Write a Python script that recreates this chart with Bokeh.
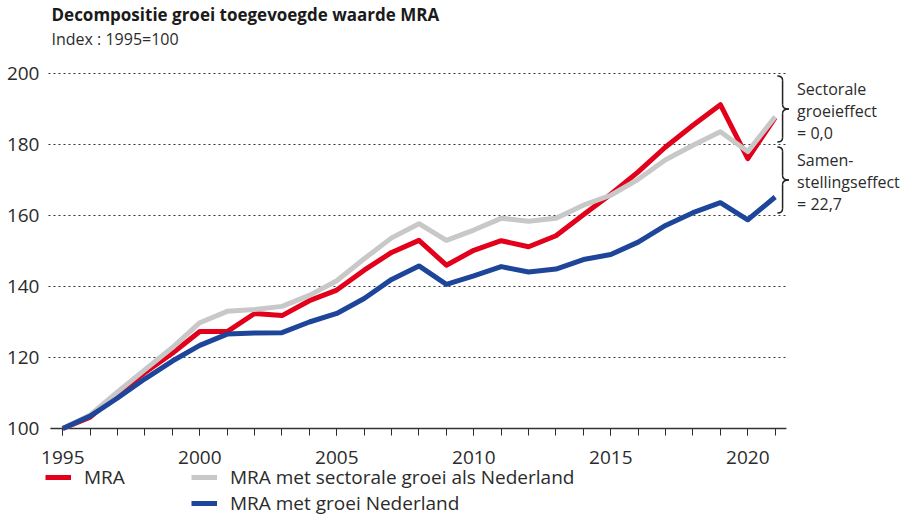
from bokeh.plotting import figure
from bokeh.models import Legend, LegendItem, Label, Title, FixedTicker, Range1d
from bokeh.embed import file_html
from bokeh.resources import INLINE

years = list(range(1995, 2022))
mra = [100, 103.2, 109.8, 115.8, 121.2, 127.3, 127.3, 132.4, 131.8, 136.0,
       139.0, 144.6, 149.6, 153.0, 146.0, 150.2, 152.9, 151.2, 154.3, 160.2,
       166.0, 172.3, 179.3, 185.4, 191.2, 176.0, 187.6]
mra_sect = [100, 103.8, 110.3, 116.6, 122.8, 129.8, 133.0, 133.5, 134.4, 137.5,
            141.6, 147.8, 153.7, 157.7, 153.0, 155.9, 159.2, 158.4, 159.2, 162.9,
            165.7, 170.2, 175.7, 179.8, 183.6, 178.0, 187.8]
mra_nl = [100, 103.5, 108.6, 114.0, 119.0, 123.4, 126.6, 126.9, 127.0, 130.0,
          132.4, 136.6, 142.0, 145.8, 140.6, 143.0, 145.6, 144.1, 144.9, 147.6,
          149.0, 152.5, 157.2, 160.8, 163.6, 158.8, 165.2]

series_labels = ["MRA", "MRA met sectorale groei als Nederland", "MRA met groei Nederland"]
colors = ["#e2001a", "#c8c8c8", "#1d4599"]

major_ticks = [1995, 2000, 2005, 2010, 2015, 2020]
y_ticks = [100, 120, 140, 160, 180, 200]
grid_levels = [120, 140, 160, 180, 200]

annot_sect = ["Sectorale", "groeieffect", "= 0,0"]
annot_samen = ["Samen-", "stellingseffect", "= 22,7"]

FONT = "Open Sans"
TXT = "#2b2b2b"

PX_PER_YEAR = 27.4
X0 = 1992.727
X1 = X0 + 903 / PX_PER_YEAR
X_AXIS = 1994.478          # left edge of the chart area
AX_END = 2021.41
Y0, Y1 = 75.21, 206.76

p = figure(frame_width=903, frame_height=467, output_backend="svg", toolbar_location=None,
           x_range=Range1d(X0, X1), y_range=Range1d(Y0, Y1),
           min_border_left=0, min_border_right=0, min_border_top=0, min_border_bottom=0,
           title=None)
p.outline_line_color = None
p.background_fill_color = None
p.border_fill_color = "white"
p.xgrid.visible = False
p.ygrid.visible = False

# titles
sub = Title(text="Index : 1995=100", text_font=FONT, text_font_size="16px",
            text_font_style="normal", text_color=TXT, offset=51, standoff=0)
p.add_layout(sub, "above")
main = Title(text="Decompositie groei toegevoegde waarde MRA", text_font=FONT,
             text_font_size="17px", text_font_style="bold", text_color="#1a1a1a", offset=51, standoff=0)
p.add_layout(main, "above")

# axes pinned inside the frame
xa = p.xaxis[0]
xa.fixed_location = 100
xa.ticker = FixedTicker(ticks=major_ticks, minor_ticks=years)
xa.axis_line_color = None
xa.major_tick_out = 7
xa.major_tick_in = 0
xa.minor_tick_out = 7
xa.minor_tick_in = 0
xa.major_tick_line_color = TXT
xa.minor_tick_line_color = TXT
xa.major_label_text_font = FONT
xa.major_label_text_font_size = "19px"
xa.major_label_text_color = TXT
xa.major_label_standoff = 16

ya = p.yaxis[0]
ya.fixed_location = X_AXIS
ya.ticker = FixedTicker(ticks=y_ticks)
ya.axis_line_color = None
ya.major_tick_line_color = None
ya.minor_tick_line_color = None
ya.major_tick_out = 0
ya.major_tick_in = 0
ya.major_label_standoff = 9
ya.major_label_text_font = FONT
ya.major_label_text_font_size = "19px"
ya.major_label_text_color = TXT

# gridlines & axis line
p.segment(x0=[X_AXIS] * len(grid_levels), y0=grid_levels, x1=[AX_END] * len(grid_levels),
          y1=grid_levels, line_color="#333333", line_width=1, line_dash="2 3")
p.segment(x0=[X_AXIS + 0.07], y0=[100], x1=[AX_END], y1=[100], line_color="#333333", line_width=1.5)

# series
line_kw = dict(line_width=5, line_join="round")
r_red = p.line(years, mra, line_color=colors[0], **line_kw)
r_gray = p.line(years, mra_sect, line_color=colors[1], **line_kw)
r_blue = p.line(years, mra_nl, line_color=colors[2], **line_kw)
r_dummy = p.line([], [], line_alpha=0)

# braces
def brace(yt, yb, xl=2021.08, xs=2021.27, xt=2021.50, h=1.2):
    ym = (yt + yb) / 2
    segs = [((xl, yt), (xs, yt - h), (xs, yt)),
            ((xs, ym + h), (xt, ym), (xs, ym)),
            ((xt, ym), (xs, ym - h), (xs, ym)),
            ((xs, yb + h), (xl, yb), (xs, yb))]
    p.quadratic(x0=[s[0][0] for s in segs], y0=[s[0][1] for s in segs],
                x1=[s[1][0] for s in segs], y1=[s[1][1] for s in segs],
                cx=[s[2][0] for s in segs], cy=[s[2][1] for s in segs],
                line_color="#222222", line_width=1.5)
    p.segment(x0=[xs, xs], y0=[yt - h, ym - h], x1=[xs, xs], y1=[ym + h, yb + h],
              line_color="#222222", line_width=1.5)

brace(199.3, 180.7)
brace(179.3, 160.7)

for lines, ytop in ((annot_sect, 195.77), (annot_samen, 175.57)):
    for i, t in enumerate(lines):
        p.add_layout(Label(x=2021.80, y=ytop - i * 6.2, text=t, text_font=FONT,
                           text_font_size="16px", text_color=TXT,
                           text_align="left", text_baseline="middle"))

legend = Legend(items=[LegendItem(label=series_labels[0], renderers=[r_red]),
                       LegendItem(label=series_labels[1], renderers=[r_gray]),
                       LegendItem(label=" ", renderers=[r_dummy]),
                       LegendItem(label=series_labels[2], renderers=[r_blue])],
                orientation="horizontal", ncols=2, location=(45, 0),
                margin=0, padding=0, spacing=0, border_line_alpha=0,
                background_fill_alpha=0, glyph_width=26, glyph_height=16,
                label_height=16, label_standoff=13, label_width=107,
                label_text_font=FONT, label_text_font_size="19px", label_text_color=TXT)
p.add_layout(legend, "center")

open("out.html", "w").write(file_html(p, INLINE))
